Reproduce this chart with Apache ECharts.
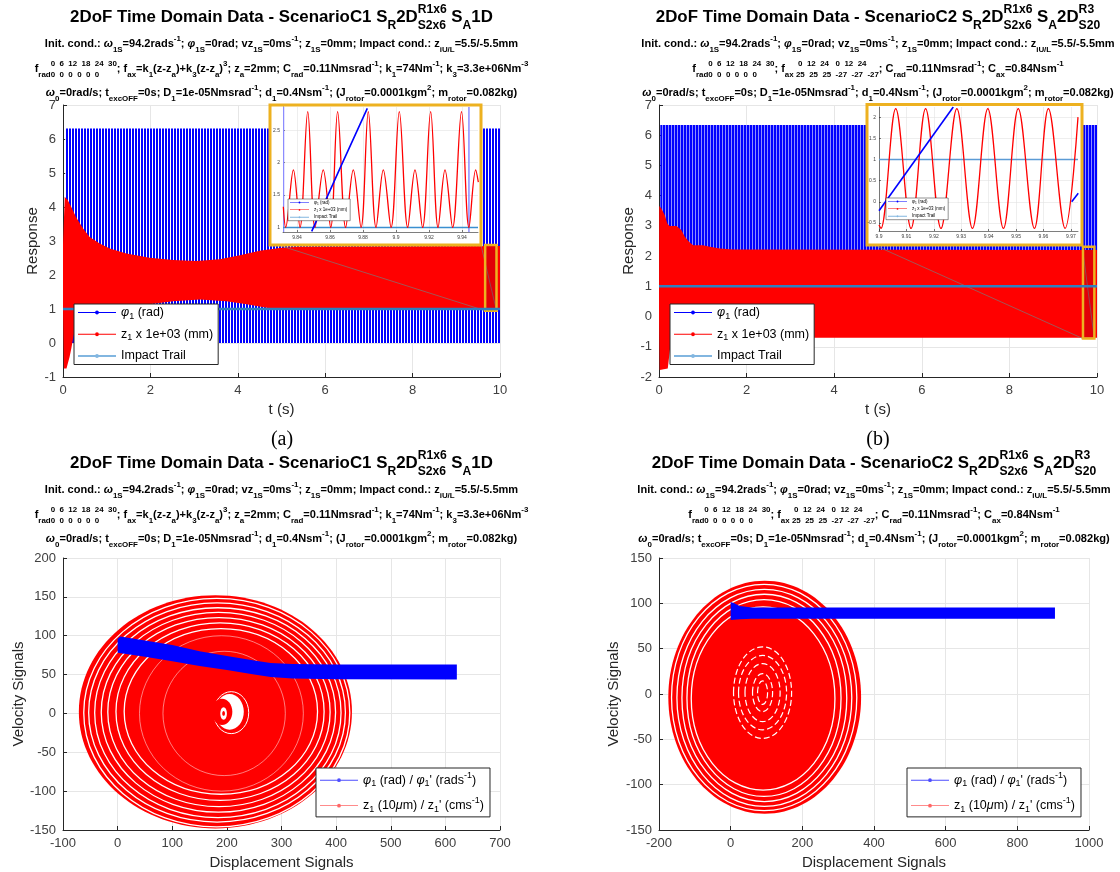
<!DOCTYPE html>
<html>
<head>
<meta charset="utf-8">
<script src="https://cdn.jsdelivr.net/npm/echarts@6/dist/echarts.min.js"></script>
<style>
html, body { margin: 0; padding: 0; background: #fff; }
#main { width: 1120px; height: 872px; }
</style>
</head>
<body>
<div id="main"></div>
<script>
// ---------- values ----------
// (a) ScenarioC1 time response
const phiBandA = [[0.05, 0], [0.05, 6.31], [10, 6.31], [10, 0]];
const zUpperA = [[0, 2.9], [0.04, 4.3], [0.11, 4.2], [0.19, 4.0], [0.3, 3.7], [0.46, 3.37], [0.61, 3.12], [0.84, 2.93],
  [1.07, 2.78], [1.45, 2.63], [1.98, 2.51], [2.52, 2.44], [3.05, 2.41], [3.59, 2.46], [4.05, 2.58], [4.5, 2.71],
  [5.0, 2.8], [5.42, 2.83], [10, 2.85]];
const zLowerA = [[0, 1.0], [0.02, -0.75], [0.08, -0.75], [0.11, -0.6], [0.15, -0.41], [0.19, -0.16], [0.23, 0.13],
  [0.27, 0.38], [0.31, 0.67], [0.34, 0.96], [1.2, 0.97], [1.6, 1.06], [1.98, 1.14], [2.52, 1.23], [3.13, 1.28],
  [3.74, 1.23], [4.2, 1.14], [4.66, 1.04], [5.0, 0.98], [10, 0.98]];
const impactA = [[0, 1], [10, 1]];
const boxA = [[9.66, 0.95, 9.92, 2.88]];
const connA = [[5.0, 2.85, 9.66, 0.95], [9.565, 2.88, 9.92, 0.95]];

// (b) ScenarioC2 time response
const phiBandB = [[0.03, 0], [0.03, 6.34], [10, 6.34], [10, 0]];
const zUpperB = [[0, 0], [0.005, 3.66], [0.05, 3.58], [0.13, 3.36], [0.19, 3.08], [0.24, 3.0], [0.4, 3.0], [0.51, 2.86],
  [0.59, 2.64], [0.69, 2.47], [0.78, 2.36], [1.0, 2.36], [1.16, 2.31], [1.39, 2.25], [1.69, 2.22], [10, 2.2]];
const zLowerB = [[0, 0], [0.015, -1.77], [0.2, -1.72], [0.24, -1.22], [0.28, -0.7], [10, -0.7]];
const impactB = [[0, 1], [10, 1]];
const boxB = [[9.68, -0.73, 9.94, 2.31]];
const connB = [[5.0, 2.31, 9.68, -0.73], [9.66, 2.36, 9.94, -0.73]];

// insets
const insetTicksAx = [9.84, 9.86, 9.88, 9.9, 9.92, 9.94];
const insetTicksAy = [1, 1.5, 2, 2.5];
const insetTicksBx = [9.9, 9.91, 9.92, 9.93, 9.94, 9.95, 9.96, 9.97];
const insetTicksBy = [-0.5, 0, 0.5, 1, 1.5, 2];
const zInsetA = [[9.8317, 1.32], [9.8331, 1.0], [9.8378, 1.89], [9.8418, 1.0], [9.8465, 2.79], [9.8509, 1.0],
  [9.8559, 1.89], [9.8604, 1.0], [9.8646, 2.79], [9.8695, 1.0], [9.8741, 1.89], [9.8788, 1.0], [9.8832, 2.79],
  [9.8879, 1.0], [9.8923, 1.89], [9.897, 1.0], [9.902, 2.79], [9.9071, 1.0], [9.9115, 1.89], [9.9161, 1.0],
  [9.921, 2.79], [9.9255, 1.0], [9.9297, 1.89], [9.9343, 1.0], [9.9397, 2.79], [9.9442, 1.0], [9.9483, 1.89],
  [9.9499, 1.7]];
const phiInsetA = [[9.8489, 0.94], [9.8667, 1.95], [9.8826, 2.84]];
const phiWrapA = [[9.8318, 0.93, 2.86], [9.9442, 0.93, 2.86]];
const impactInsetA = [[9.8315, 1], [9.9497, 1]];
const zInsetB = [[9.9, -0.55], [9.9007, -0.63], [9.9061, 2.2], [9.9117, -0.63], [9.917, 2.2], [9.9226, -0.63],
  [9.9284, 2.2], [9.9341, -0.63], [9.9397, 2.2], [9.9454, -0.63], [9.9508, 2.2], [9.9567, -0.63], [9.9618, 2.2],
  [9.9679, -0.63], [9.9726, 2.0]];
const phiInsetB1 = [[9.9, -0.21], [9.9271, 2.24]];
const phiInsetB2 = [[9.9703, 0.0], [9.9727, 0.2]];
const impactInsetB = [[9.9, 1], [9.9726, 1]];

// (c) ScenarioC1 phase portrait  -- ellipses are [cx, cy, rx, ry]
const ringFillC = [[179, 2, 250, 150]];
const ringGapC = [[181.5, 1, 243.5, 147], [182, 1.2, 235, 141], [183.5, 1, 225.5, 135], [184.5, 1.5, 214.5, 128.5],
  [185.5, 1.7, 203.5, 121.7], [187.5, 2.3, 190.5, 114.3], [189, 2.5, 177, 106.5]];
const ringFaintC = [[190, 0, 150, 100], [195, 0, 112, 80]];
const crescentWhiteC = [[205, 2, 26, 23]];
const crescentRedC = [[191, 2, 19, 17]];
const dotWhiteC = [[194, 0, 6, 8]];
const dotRedC = [[194, 0, 2.5, 3]];
const arcWhiteC = [[208, 1, 32, 27]];
const phiUpperC = [[0, 96], [5, 99], [50, 94], [100, 88], [150, 80], [200, 74], [250, 68], [280, 65], [320, 63.5], [400, 63], [621, 63]];
const phiLowerC = [[0, 78], [50, 73], [100, 67], [150, 61], [200, 56], [250, 50], [280, 47], [320, 45], [400, 44], [621, 43.5]];

// (d) ScenarioC2 phase portrait
const ringFillD = [[95, -3.5, 269, 128.5]];
const ringGapD = [[93.5, -3.8, 258.5, 124.8], [94, -4.2, 244, 119.7], [94, -4.3, 230, 114.3], [93, -4.5, 215, 108.5],
  [90.5, -5, 200.5, 101]];
const innerRingsD = [[89, 1.5, 14, 13], [89, 1.5, 28, 21], [89, 1.5, 49, 32], [89, 1.5, 67, 41], [89, 1.5, 81, 50.5]];
const phiUpperD = [[0, 101.5], [10, 100], [25, 97], [60, 95.5], [905, 95.5]];
const phiLowerD = [[0, 81.5], [25, 82.5], [60, 83], [905, 83]];

// ---------- header texts ----------
const hdrTitleA = [['n', '2DoF Time Domain Data - ScenarioC1 S'], ['b', 'R'], ['n', '2D'], ['s', 'R1x6', 'S2x6'], ['n', ' S'], ['b', 'A'], ['n', '1D']];
const hdrTitleB = [['n', '2DoF Time Domain Data - ScenarioC2 S'], ['b', 'R'], ['n', '2D'], ['s', 'R1x6', 'S2x6'], ['n', ' S'], ['b', 'A'], ['n', '2D'], ['s', 'R3', 'S20']];
const hdrInit = [['n', 'Init. cond.: '], ['i', 'ω'], ['b', '1S'], ['n', '=94.2rads'], ['p', '-1'], ['n', '; '], ['i', 'φ'], ['b', '1S'],
  ['n', '=0rad; vz'], ['b', '1S'], ['n', '=0ms'], ['p', '-1'], ['n', '; z'], ['b', '1S'], ['n', '=0mm; Impact cond.: z'], ['b', 'iU/L'], ['n', '=5.5/-5.5mm']];
const hdrForceA = [['n', 'f'], ['b', 'rad'], ['s', '0  6  12  18  24  30', '0  0  0  0  0  0'], ['n', '; f'], ['b', 'ax'], ['n', '=k'], ['b', '1'],
  ['n', '(z-z'], ['b', 'a'], ['n', ')+k'], ['b', '3'], ['n', '(z-z'], ['b', 'a'], ['n', ')'], ['p', '3'], ['n', '; z'], ['b', 'a'],
  ['n', '=2mm; C'], ['b', 'rad'], ['n', '=0.11Nmsrad'], ['p', '-1'], ['n', '; k'], ['b', '1'], ['n', '=74Nm'], ['p', '-1'],
  ['n', '; k'], ['b', '3'], ['n', '=3.3e+06Nm'], ['p', '-3']];
const hdrForceB = [['n', 'f'], ['b', 'rad'], ['s', '0  6  12  18  24  30', '0  0  0  0  0  0'], ['n', '; f'], ['b', 'ax'],
  ['s', '  0  12  24   0  12  24', ' 25  25  25  -27  -27  -27'], ['n', '; C'], ['b', 'rad'], ['n', '=0.11Nmsrad'], ['p', '-1'],
  ['n', '; C'], ['b', 'ax'], ['n', '=0.84Nsm'], ['p', '-1']];
const hdrRotor = [['i', 'ω'], ['b', '0'], ['n', '=0rad/s; t'], ['b', 'excOFF'], ['n', '=0s; D'], ['b', '1'], ['n', '=1e-05Nmsrad'], ['p', '-1'],
  ['n', '; d'], ['b', '1'], ['n', '=0.4Nsm'], ['p', '-1'], ['n', '; (J'], ['b', 'rotor'], ['n', '=0.0001kgm'], ['p', '2'],
  ['n', '; m'], ['b', 'rotor'], ['n', '=0.082kg)']];

const labTop = {
  phi: '{i|φ}{b|1}{n| (rad)}',
  z: '{n|z}{b|1}{n| x 1e+03 (mm)}',
  imp: '{n|Impact Trail}'
};
const labBottom = {
  phi2: '{i|φ}{b|1}{n| (rad) / }{i|φ}{b|1}{n|\' (rads}{p|-1}{n|)}',
  z2: '{n|z}{b|1}{n| (10}{i|μ}{n|m) / z}{b|1}{n|\' (cms}{p|-1}{n|)}'
};

// ---------- helpers ----------
const FONT = 'Liberation Sans';
const BLUE = '#0000ff', RED = '#ff0000', ORANGE = '#EDB120', TRAIL = '#2f7fc0';
const mctx = document.createElement('canvas').getContext('2d');
function tw(t, sz, it) {
  mctx.font = (it ? 'italic ' : '') + 'bold ' + sz + 'px "' + FONT + '"';
  return mctx.measureText(t).width;
}
function layoutLine(parts, sz) {
  const sm = sz * 0.72;
  let x = 0;
  const out = [];
  parts.forEach(p => {
    const k = p[0];
    if (k === 'n' || k === 'i') {
      out.push({x: x, dy: 0, sz: sz, it: k === 'i', t: p[1]});
      x += tw(p[1], sz, k === 'i');
    } else if (k === 'b') {
      out.push({x: x, dy: sz * 0.5, sz: sm, t: p[1]});
      x += tw(p[1], sm);
    } else if (k === 'p') {
      out.push({x: x, dy: -sz * 0.45, sz: sm, t: p[1]});
      x += tw(p[1], sm);
    } else {
      out.push({x: x, dy: -sz * 0.45, sz: sm, t: p[1]});
      out.push({x: x, dy: sz * 0.5, sz: sm, t: p[2]});
      x += Math.max(tw(p[1], sm), tw(p[2], sm));
    }
  });
  return {w: x, items: out};
}
function headerEls(cx, cy, parts, sz) {
  const L = layoutLine(parts, sz);
  return L.items.map(it => ({
    type: 'text', x: cx - L.w / 2 + it.x, y: cy + it.dy, z: 20, silent: true,
    style: {
      text: it.t, fontSize: it.sz, fontWeight: 'bold', fontStyle: it.it ? 'italic' : 'normal',
      fontFamily: FONT, fill: '#000', align: 'left', verticalAlign: 'middle'
    }
  }));
}
function fitSize(parts, base, target) {
  return base * target / layoutLine(parts, base).w;
}
function stripes(c1, c2, n1, n2) {
  const cv = document.createElement('canvas');
  cv.width = n1 + n2; cv.height = 4;
  const g = cv.getContext('2d');
  g.fillStyle = c2; g.fillRect(0, 0, n1 + n2, 4);
  g.fillStyle = c1; g.fillRect(0, 0, n1, 4);
  return {image: cv, repeat: 'repeat'};
}
function rich(fs) {
  return {
    n: {fontSize: fs, fontFamily: FONT, color: '#000'},
    i: {fontSize: fs, fontFamily: FONT, fontStyle: 'italic', color: '#000'},
    b: {fontSize: fs * 0.72, fontFamily: FONT, color: '#000', padding: [fs * 0.6, 0, 0, 0]},
    p: {fontSize: fs * 0.72, fontFamily: FONT, color: '#000', padding: [0, 0, fs * 0.75, 0]}
  };
}

function polySeries(name, idx, upper, lower, style, z) {
  const pts = upper.concat(lower.slice().reverse());
  return {
    type: 'custom', name: name, xAxisIndex: idx, yAxisIndex: idx, z: z || 2, silent: true, clip: true,
    data: pts,
    renderItem: function (params, api) {
      if (params.dataIndex !== 0) return null;
      return {type: 'polygon', shape: {points: pts.map(p => api.coord(p))}, style: style};
    }
  };
}
function ellSeries(name, idx, rows, style, z) {
  return {
    type: 'custom', name: name, xAxisIndex: idx, yAxisIndex: idx, z: z || 2, silent: true, clip: true,
    data: rows,
    renderItem: function (params, api) {
      const c = api.coord([api.value(0), api.value(1)]);
      const s = api.size([api.value(2), api.value(3)]);
      return {type: 'ellipse', shape: {cx: c[0], cy: c[1], rx: s[0], ry: s[1]}, style: style};
    }
  };
}
function segSeries(idx, rows, style, z) {
  // rows: [x1, y1, x2, y2]
  return {
    type: 'custom', xAxisIndex: idx, yAxisIndex: idx, z: z || 3, silent: true, clip: true,
    data: rows,
    renderItem: function (params, api) {
      const a = api.coord([api.value(0), api.value(1)]);
      const b = api.coord([api.value(2), api.value(3)]);
      return {type: 'line', shape: {x1: a[0], y1: a[1], x2: b[0], y2: b[1]}, style: style};
    }
  };
}
function rectSeries(idx, rows, style, z) {
  return {
    type: 'custom', xAxisIndex: idx, yAxisIndex: idx, z: z || 3, silent: true, clip: false,
    data: rows,
    renderItem: function (params, api) {
      const a = api.coord([api.value(0), api.value(3)]);
      const b = api.coord([api.value(2), api.value(1)]);
      return {type: 'rect', shape: {x: a[0], y: a[1], width: b[0] - a[0], height: b[1] - a[1]}, style: style};
    }
  };
}
function wrapSeries(idx, rows, style, z) {
  return {
    type: 'custom', xAxisIndex: idx, yAxisIndex: idx, z: z, silent: true, clip: true,
    data: rows,
    renderItem: function (params, api) {
      const a = api.coord([api.value(0), api.value(1)]);
      const b = api.coord([api.value(0), api.value(2)]);
      return {type: 'line', shape: {x1: a[0], y1: a[1], x2: b[0], y2: b[1]}, style: style};
    }
  };
}
function lineSeries(name, idx, data, color, width, z, extra) {
  return Object.assign({
    type: 'line', name: name, xAxisIndex: idx, yAxisIndex: idx, data: data, symbol: 'none',
    lineStyle: {color: color, width: width}, itemStyle: {color: color}, z: z || 3, silent: true, clip: true
  }, extra || {});
}

function mainAxis(idx, min, max, interval, name, nameGap, isY) {
  return {
    type: 'value', gridIndex: idx, min: min, max: max, interval: interval,
    name: name, nameLocation: 'middle', nameGap: nameGap, nameRotate: isY ? 90 : 0,
    nameTextStyle: {fontSize: 15, color: '#262626', fontFamily: FONT},
    axisLine: {show: true, onZero: false, lineStyle: {color: '#262626', width: 1}},
    axisTick: {show: true, inside: true, length: 4, lineStyle: {color: '#262626'}},
    axisLabel: {color: '#404040', fontSize: 13, fontFamily: FONT, margin: 7, formatter: v => String(v)},
    splitLine: {show: true, lineStyle: {color: '#e6e6e6', width: 1}}
  };
}
function insetAxis(idx, min, max, ticks) {
  return {
    type: 'value', gridIndex: idx, min: min, max: max, z: 7,
    axisLine: {show: true, onZero: false, lineStyle: {color: '#262626', width: 0.6}},
    axisTick: {show: true, inside: true, length: 2, customValues: ticks, lineStyle: {color: '#262626', width: 0.6}},
    axisLabel: {customValues: ticks, color: '#404040', fontSize: 5, fontFamily: FONT, margin: 3},
    splitLine: {show: true, lineStyle: {color: '#e2e2e2', width: 0.6}}
  };
}

const LINE_THIN = 'path://M0,1.5H40V2.5H0Z M18,2A2,2 0 1 1 22,2A2,2 0 1 1 18,2Z';
const LINE_THICK = 'path://M0,1H40V3H0Z M18,2A2,2 0 1 1 22,2A2,2 0 1 1 18,2Z';
function legendTop(left, top, fs, iw, ih, gap, pad) {
  return {
    orient: 'vertical', left: left, top: top, z: 9, selectedMode: false,
    itemWidth: iw, itemHeight: ih, itemGap: gap, padding: pad,
    backgroundColor: '#fff', borderColor: '#262626', borderWidth: fs > 8 ? 1 : 0.5, borderRadius: 0,
    data: [
      {name: 'phi', icon: LINE_THIN, itemStyle: {color: BLUE}},
      {name: 'z', icon: LINE_THIN, itemStyle: {color: RED}},
      {name: 'imp', icon: LINE_THICK, itemStyle: {color: '#82b6e0'}}
    ],
    formatter: n => labTop[n],
    textStyle: {fontSize: fs, fontFamily: FONT, color: '#000', rich: rich(fs)}
  };
}
function legendBottom(left, top) {
  return {
    orient: 'vertical', left: left, top: top, z: 9, selectedMode: false,
    itemWidth: 38, itemHeight: 4, itemGap: 8, padding: [3, 6, 3, 4],
    backgroundColor: '#fff', borderColor: '#262626', borderWidth: 1, borderRadius: 0,
    data: [
      {name: 'phi2', icon: LINE_THIN, itemStyle: {color: '#4d4dff'}},
      {name: 'z2', icon: LINE_THIN, itemStyle: {color: '#ff6666'}}
    ],
    formatter: n => labBottom[n],
    textStyle: {fontSize: 12.5, fontFamily: FONT, color: '#000', rich: rich(12.5)}
  };
}

// ---------- headers ----------
const titleSize = fitSize(hdrTitleA, 14, 423);
const subSize = fitSize(hdrInit, 10, 474);
let graphics = [];
[[281.5, 0, hdrTitleA, hdrForceA], [878, 0, hdrTitleB, hdrForceB], [281.5, 446, hdrTitleA, hdrForceA], [874, 446, hdrTitleB, hdrForceB]]
  .forEach(h => {
    const cx = h[0], dy = h[1];
    graphics = graphics.concat(headerEls(cx, 17 + dy, h[2], titleSize));
    graphics = graphics.concat(headerEls(cx, 44 + dy, hdrInit, subSize));
    graphics = graphics.concat(headerEls(cx, 69 + dy, h[3], subSize));
    graphics = graphics.concat(headerEls(cx, 93 + dy, hdrRotor, subSize));
  });
graphics.push({type: 'text', x: 282, y: 440, z: 20, silent: true,
  style: {text: '(a)', fontSize: 20, fontFamily: 'Liberation Serif', fill: '#000', align: 'center', verticalAlign: 'middle'}});
graphics.push({type: 'text', x: 878, y: 440, z: 20, silent: true,
  style: {text: '(b)', fontSize: 20, fontFamily: 'Liberation Serif', fill: '#000', align: 'center', verticalAlign: 'middle'}});
// inset frames
graphics.push({type: 'rect', z: 5, silent: true, shape: {x: 270, y: 105, width: 211, height: 140},
  style: {fill: '#fff', stroke: ORANGE, lineWidth: 3}});
graphics.push({type: 'rect', z: 5, silent: true, shape: {x: 867, y: 104.5, width: 215, height: 140.5},
  style: {fill: '#fff', stroke: ORANGE, lineWidth: 3}});

const stripeA = stripes(BLUE, '#ffffff', 2, 1);
const stripeB = stripes(BLUE, '#8c8cff', 2, 1);

const option = {
  animation: false,
  backgroundColor: '#fff',
  textStyle: {fontFamily: FONT},
  grid: [
    {left: 63, top: 105, width: 437, height: 272, containLabel: false, outerBoundsMode: 'none'},
    {left: 659, top: 105, width: 438, height: 272, containLabel: false, outerBoundsMode: 'none'},
    {left: 63, top: 558, width: 437, height: 272, containLabel: false, outerBoundsMode: 'none'},
    {left: 659, top: 558, width: 430, height: 272, containLabel: false, outerBoundsMode: 'none'},
    {left: 283, top: 107, width: 195, height: 125, containLabel: false, outerBoundsMode: 'none', z: 6},
    {left: 879, top: 107, width: 199, height: 124, containLabel: false, outerBoundsMode: 'none', z: 6}
  ],
  xAxis: [
    mainAxis(0, 0, 10, 2, 't (s)', 25, false),
    mainAxis(1, 0, 10, 2, 't (s)', 25, false),
    mainAxis(2, -100, 700, 100, 'Displacement Signals', 25, false),
    mainAxis(3, -200, 1000, 200, 'Displacement Signals', 25, false),
    insetAxis(4, 9.8315, 9.9497, insetTicksAx),
    insetAxis(5, 9.9, 9.9726, insetTicksBx)
  ],
  yAxis: [
    mainAxis(0, -1, 7, 1, 'Response', 23, true),
    mainAxis(1, -2, 7, 1, 'Response', 23, true),
    mainAxis(2, -150, 200, 50, 'Velocity Signals', 36, true),
    mainAxis(3, -150, 150, 50, 'Velocity Signals', 38, true),
    insetAxis(4, 0.93, 2.86, insetTicksAy),
    insetAxis(5, -0.69, 2.24, insetTicksBy)
  ],
  legend: [
    legendTop(74, 304, 12.5, 38, 4, 7, [2, 5, 2, 4]),
    legendTop(670, 304, 12.5, 38, 4, 7, [2, 5, 2, 4]),
    legendTop(288, 199, 4.5, 19, 2, 2, [1, 3, 1, 2]),
    legendTop(886, 198, 4.5, 19, 2, 2, [1, 3, 1, 2]),
    legendBottom(316, 768),
    legendBottom(907, 768)
  ],
  graphic: {elements: graphics},
  series: [
    // (a)
    polySeries('phi', 0, [phiBandA[1], phiBandA[2]], [phiBandA[0], phiBandA[3]], {fill: stripeA}, 2),
    polySeries('z', 0, zUpperA, zLowerA, {fill: RED}, 2),
    lineSeries('imp', 0, impactA, TRAIL, 2.5, 3),
    segSeries(0, connA, {stroke: '#7a7a7a', lineWidth: 0.7}, 3),
    rectSeries(0, boxA, {fill: 'rgba(90,0,40,0.18)', stroke: ORANGE, lineWidth: 2.5}, 3),
    // (b)
    polySeries('phi', 1, [phiBandB[1], phiBandB[2]], [phiBandB[0], phiBandB[3]], {fill: stripeB}, 2),
    polySeries('z', 1, zUpperB, zLowerB, {fill: RED}, 2),
    lineSeries('imp', 1, impactB, TRAIL, 2.5, 3),
    segSeries(1, connB, {stroke: '#7a7a7a', lineWidth: 0.7}, 3),
    rectSeries(1, boxB, {fill: 'rgba(90,0,40,0.18)', stroke: ORANGE, lineWidth: 2.5}, 3),
    // inset (a)
    lineSeries('imp', 4, impactInsetA, '#3a8fd0', 1.6, 8),
    lineSeries('z', 4, zInsetA, RED, 1.3, 8, {smooth: 0.36}),
    wrapSeries(4, phiWrapA, {stroke: '#8c8cff', lineWidth: 1.5}, 8),
    lineSeries('phi', 4, phiInsetA, BLUE, 1.6, 8),
    // inset (b)
    lineSeries('imp', 5, impactInsetB, '#5b9bd5', 1.6, 8),
    lineSeries('z', 5, zInsetB, RED, 1.3, 8, {smooth: 0.36}),
    lineSeries('phi', 5, phiInsetB1, BLUE, 1.6, 8),
    lineSeries('phi', 5, phiInsetB2, BLUE, 1.6, 8),
    // (c)
    ellSeries('z2', 2, ringFillC, {fill: RED}, 2),
    ellSeries('z2', 2, ringGapC, {fill: 'none', stroke: '#fff', lineWidth: 1.3}, 2),
    ellSeries('z2', 2, ringFaintC, {fill: 'none', stroke: 'rgba(255,255,255,0.7)', lineWidth: 0.7}, 2),
    ellSeries('z2', 2, arcWhiteC, {fill: 'none', stroke: '#fff', lineWidth: 1}, 2),
    ellSeries('z2', 2, crescentWhiteC, {fill: '#fff'}, 2),
    ellSeries('z2', 2, crescentRedC, {fill: RED}, 2),
    ellSeries('z2', 2, dotWhiteC, {fill: '#fff'}, 2),
    ellSeries('z2', 2, dotRedC, {fill: RED}, 2),
    polySeries('phi2', 2, phiUpperC, phiLowerC, {fill: BLUE}, 3),
    // (d)
    ellSeries('z2', 3, ringFillD, {fill: RED}, 2),
    ellSeries('z2', 3, ringGapD, {fill: 'none', stroke: '#fff', lineWidth: 1.3}, 2),
    ellSeries('z2', 3, innerRingsD, {fill: 'none', stroke: '#fff', lineWidth: 1.2, lineDash: [6, 3]}, 2),
    polySeries('phi2', 3, phiUpperD, phiLowerD, {fill: BLUE}, 3)
  ]
};

const chart = echarts.init(document.getElementById('main'), null, {renderer: 'canvas'});
chart.setOption(option);
</script>
</body>
</html>
